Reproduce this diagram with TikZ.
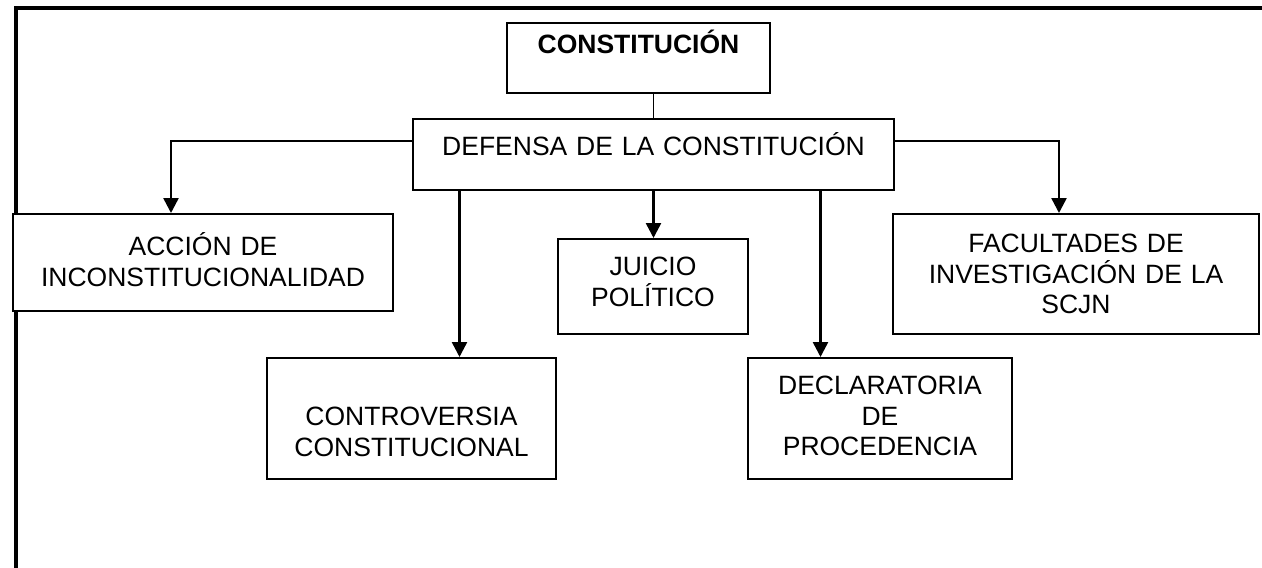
\documentclass[tikz,border=0pt]{standalone}
\usepackage{fontspec}
\setmainfont{Liberation Sans}
\usepackage{tikz}
\usetikzlibrary{arrows.meta, calc}
\tikzstyle{caja} = [rectangle, draw=black, line width=2pt, fill=white, inner sep=0pt, align=center, anchor=north west, font=\fontsize{26.5}{30.5}\selectfont]
\tikzstyle{arrow} = [line width=2.5pt, -{Triangle[width=15pt,length=15pt]}]
\tikzstyle{linea} = [line width=1.5pt]
\tikzstyle{marco} = [line width=4pt]

\begin{document}
\begin{tikzpicture}[x=1pt, y=-1pt]
      \useasboundingbox (0,0) rectangle (1262,568);

      % Marco
      \draw[marco] (16,568) -- (16,8) -- (1262,8);

      % Cajas
      \node[caja, text width=263pt, text height=30.5pt, text depth=39.5pt] (const) at (506,22) {\textbf{CONSTITUCIÓN}};
      \node[caja, text width=481pt, text height=36.5pt, text depth=34.5pt] (def) at (412,118) {DEFENSA DE LA CONSTITUCIÓN};
      \node[caja, text width=380pt, text height=41.5pt, text depth=55.5pt] (acc) at (12,213) {ACCIÓN DE\\INCONSTITUCIONALIDAD};
      \node[caja, text width=190pt, text height=36.5pt, text depth=58.5pt] (juicio) at (557,238) {JUICIO\\POLÍTICO};
      \node[caja, text width=366pt, text height=38.5pt, text depth=81.5pt] (fac) at (892,213) {FACULTADES DE\\INVESTIGACIÓN DE LA\\SCJN};
      \node[caja, text width=289pt, text height=67.5pt, text depth=53.5pt] (contro) at (266,357) {CONTROVERSIA\\CONSTITUCIONAL};
      \node[caja, text width=264pt, text height=36.5pt, text depth=84.5pt] (decl) at (747,357) {DECLARATORIA\\DE\\PROCEDENCIA};

      % Conectores
      \coordinate (izq) at (171,141);
      \coordinate (der) at (1059,141);
      \draw[linea] (def.north) -- (def.north |- const.south);
      \draw[linea] (def.west |- izq) -- (izq);
      \draw[arrow] ([yshift=0.75pt]izq) -- (izq |- acc.north);
      \draw[linea] (def.east |- der) -- (der);
      \draw[arrow] ([yshift=0.75pt]der) -- (der |- fac.north);
      \draw[arrow] ([xshift=-194pt]def.south) -- ([xshift=-194pt]def.south |- contro.north);
      \draw[arrow] (def.south) -- (def.south |- juicio.north);
      \draw[arrow] ([xshift=167pt]def.south) -- ([xshift=167pt]def.south |- decl.north);
    \end{tikzpicture}
\end{document}
